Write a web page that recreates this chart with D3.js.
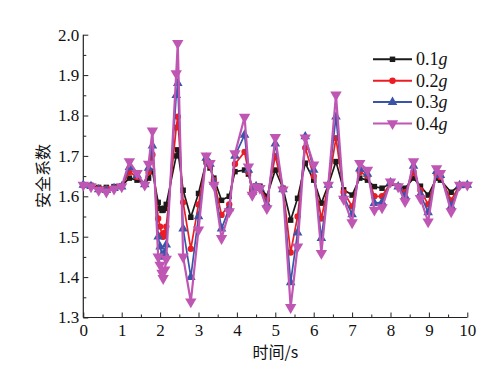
<!DOCTYPE html>
<html><head><meta charset="utf-8">
<script src="https://cdn.jsdelivr.net/npm/d3@7"></script>
<style>html,body{margin:0;padding:0;background:#fff;}svg{display:block;}</style>
</head><body>
<svg id="c" width="496" height="384"></svg>
<script>
const time = [0,0.2,0.4,0.6,0.8,1.0,1.2,1.4,1.6,1.7,1.8,1.95,2.0,2.05,2.08,2.12,2.16,2.42,2.46,2.6,2.8,3.0,3.2,3.3,3.4,3.6,3.8,3.95,4.2,4.3,4.4,4.5,4.6,4.78,5.0,5.2,5.4,5.58,5.78,6.0,6.2,6.38,6.58,6.78,7.0,7.2,7.4,7.58,7.78,8.0,8.2,8.38,8.6,8.78,8.98,9.2,9.3,9.58,9.8,10.0];
const s01 = [1.628,1.627,1.622,1.622,1.624,1.626,1.645,1.640,1.630,1.645,1.662,1.585,1.570,1.565,1.566,1.570,1.580,1.700,1.715,1.615,1.548,1.607,1.685,1.670,1.645,1.590,1.600,1.661,1.665,1.655,1.620,1.626,1.625,1.600,1.665,1.620,1.541,1.595,1.682,1.640,1.583,1.628,1.686,1.616,1.603,1.645,1.640,1.624,1.620,1.632,1.625,1.620,1.645,1.625,1.603,1.645,1.640,1.610,1.628,1.628];
const s02 = [1.628,1.626,1.620,1.619,1.622,1.625,1.660,1.648,1.630,1.660,1.703,1.545,1.525,1.505,1.500,1.510,1.525,1.770,1.797,1.585,1.470,1.580,1.690,1.675,1.640,1.554,1.580,1.680,1.710,1.660,1.615,1.625,1.622,1.590,1.700,1.618,1.461,1.550,1.720,1.650,1.545,1.628,1.744,1.610,1.575,1.660,1.650,1.600,1.600,1.633,1.624,1.610,1.660,1.615,1.580,1.655,1.648,1.590,1.628,1.628];
const s03 = [1.628,1.625,1.617,1.615,1.620,1.624,1.672,1.652,1.629,1.670,1.725,1.500,1.475,1.455,1.450,1.460,1.480,1.850,1.880,1.520,1.400,1.550,1.695,1.680,1.635,1.520,1.570,1.700,1.752,1.665,1.610,1.625,1.620,1.580,1.730,1.617,1.387,1.510,1.748,1.665,1.496,1.628,1.797,1.600,1.555,1.668,1.655,1.583,1.585,1.634,1.624,1.600,1.675,1.605,1.560,1.662,1.652,1.575,1.627,1.628];
const s04 = [1.628,1.624,1.615,1.611,1.618,1.624,1.686,1.657,1.628,1.680,1.762,1.450,1.430,1.410,1.397,1.418,1.445,1.904,1.979,1.450,1.339,1.517,1.700,1.682,1.628,1.496,1.562,1.706,1.796,1.673,1.603,1.624,1.620,1.570,1.746,1.616,1.325,1.475,1.745,1.678,1.459,1.628,1.851,1.593,1.535,1.682,1.665,1.566,1.572,1.636,1.624,1.587,1.686,1.595,1.537,1.669,1.657,1.562,1.628,1.628];
const seriesNames = ["0.1","0.2","0.3","0.4"];
const xTicks = [0,1,2,3,4,5,6,7,8,9,10];
const yTicks = [1.3,1.4,1.5,1.6,1.7,1.8,1.9,2.0];

const colors = ["#1a1a1a","#ec1c24","#3a55a8","#c056b3"];
const shapes = [d3.symbolSquare, d3.symbolCircle, d3.symbolTriangle, d3.symbolTriangle];
const sizes = [30, 32, 40, 56];
const rot = [0,0,0,180];
const widths = [1.7,1.7,1.7,2.2];
const allSeries = [s01,s02,s03,s04];

const svg = d3.select("#c");
const L = 83.3, R = 467.3, T = 34.7, B = 317.5;
const x = d3.scaleLinear().domain([0,10]).range([L,R]);
const y = d3.scaleLinear().domain([1.3,2.0]).range([B,T]);
const serif = "'Liberation Serif','DejaVu Serif',serif";

// axes
const gx = svg.append("g").attr("transform",`translate(0,${B})`);
gx.call(d3.axisTop(x).tickValues(d3.range(0,10.01,0.5)).tickSize(3).tickFormat(""));
gx.call(g=>g.selectAll(".tick line").filter(d=>Number.isInteger(d)).attr("y2",-5));
gx.select(".domain").remove();
const gx2 = svg.append("g").attr("transform",`translate(0,${B})`);
gx2.call(d3.axisBottom(x).tickValues(xTicks).tickSize(0).tickPadding(6).tickFormat(d3.format("d")));
gx2.select(".domain").remove();
gx2.selectAll("text").attr("font-family",serif).attr("font-size",17).attr("fill","#111");

const gy = svg.append("g").attr("transform",`translate(${L},0)`);
gy.call(d3.axisRight(y).tickValues(d3.range(1.3,2.001,0.05)).tickSize(3).tickFormat(""));
gy.call(g=>g.selectAll(".tick line").filter((d,i)=>i%2===0).attr("x2",5));
gy.select(".domain").remove();
const gy2 = svg.append("g").attr("transform",`translate(${L},0)`);
gy2.call(d3.axisLeft(y).tickValues(yTicks).tickSize(0).tickPadding(4).tickFormat(d3.format(".1f")));
gy2.select(".domain").remove();
gy2.selectAll("text").attr("font-family",serif).attr("font-size",17).attr("fill","#111");

svg.selectAll(".tick line").attr("stroke","#222").attr("stroke-width",1);
svg.append("line").attr("x1",L).attr("x2",R).attr("y1",B).attr("y2",B).attr("stroke","#222").attr("stroke-width",1.2);
svg.append("line").attr("x1",L).attr("x2",L).attr("y1",T).attr("y2",B).attr("stroke","#222").attr("stroke-width",1.2);

// series
const line = d3.line().x((d,i)=>x(time[i])).y(d=>y(d));
allSeries.forEach((s,k)=>{
  svg.append("path").datum(s).attr("d",line).attr("fill","none")
    .attr("stroke",colors[k]).attr("stroke-width",widths[k]).attr("stroke-linejoin","round");
  svg.append("g").selectAll("path").data(s).join("path")
    .attr("d",d3.symbol().type(shapes[k]).size(sizes[k]))
    .attr("transform",(d,i)=>`translate(${x(time[i])},${y(d)}) rotate(${rot[k]})`)
    .attr("fill",colors[k]);
});

// legend
const lg = svg.append("g");
seriesNames.forEach((n,k)=>{
  const yy = 59.3 + k*21.4;
  lg.append("line").attr("x1",373).attr("x2",412).attr("y1",yy).attr("y2",yy)
    .attr("stroke",colors[k]).attr("stroke-width",2);
  lg.append("path").attr("d",d3.symbol().type(shapes[k]).size(sizes[k]))
    .attr("transform",`translate(392.5,${yy}) rotate(${rot[k]})`).attr("fill",colors[k]);
  const t = lg.append("text").attr("x",416).attr("y",yy+6).attr("font-family",serif)
    .attr("font-size",18).attr("fill","#111");
  t.append("tspan").text(n);
  t.append("tspan").attr("font-style","italic").text("g");
});

// titles
svg.append("text").attr("x",(L+R)/2).attr("y",358).attr("text-anchor","middle")
  .attr("font-family","'Noto Sans CJK SC',serif").attr("font-size",16).attr("fill","#111")
  .text("时间/s");
svg.append("text").attr("transform",`translate(49,${(T+B)/2}) rotate(-90)`).attr("text-anchor","middle")
  .attr("font-family","'Noto Sans CJK SC',serif").attr("font-size",16).attr("fill","#111")
  .text("安全系数");
</script>
</body></html>
